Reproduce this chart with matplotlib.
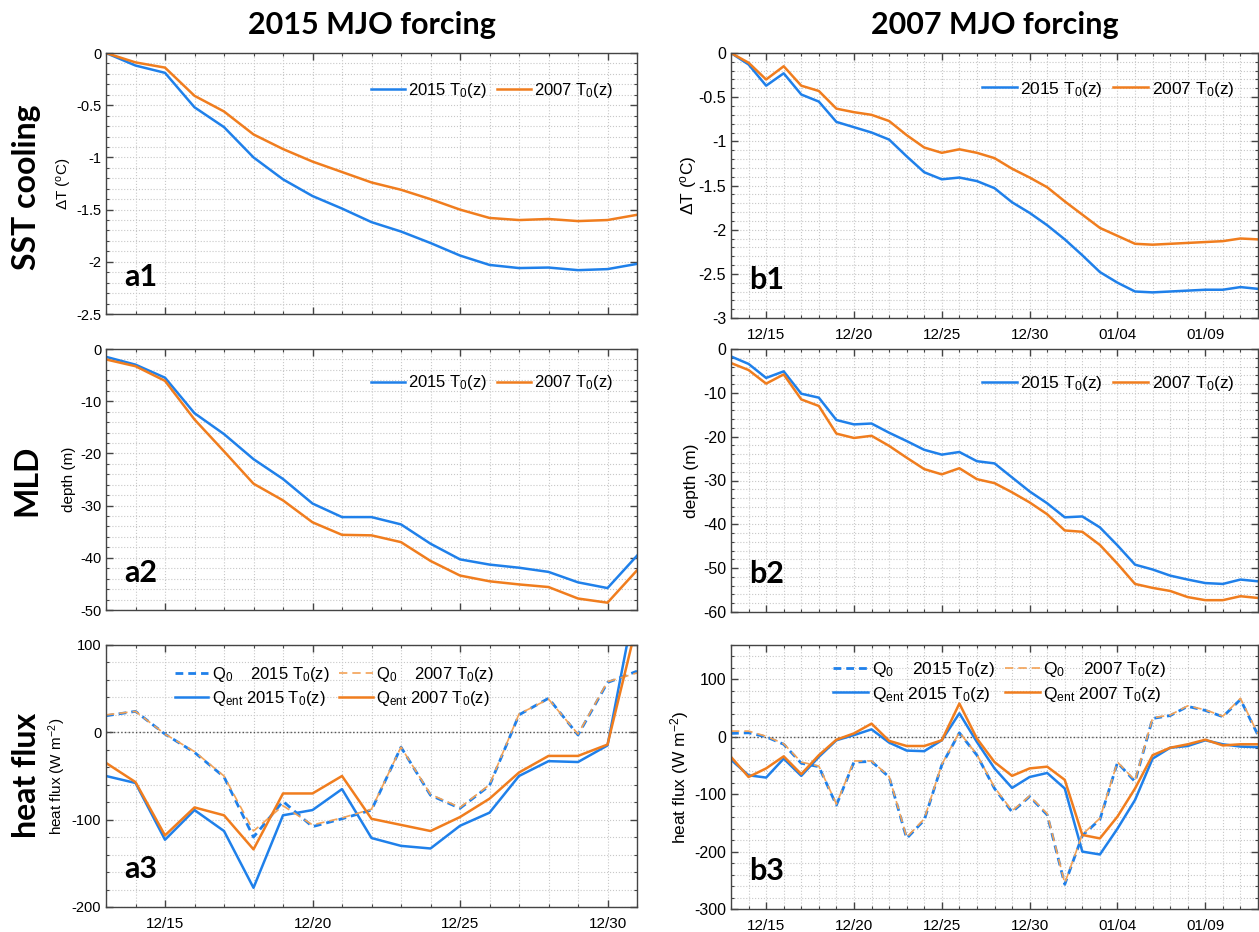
import numpy as np
import pandas as pd
import matplotlib
matplotlib.use("Agg")
import matplotlib.pyplot as plt
import matplotlib.dates as mdates
from matplotlib.ticker import MultipleLocator, FixedLocator, FormatStrFormatter

plt.rcParams['font.family'] = ['Liberation Sans', 'DejaVu Sans']
plt.rcParams['mathtext.default'] = 'regular'
plt.rcParams['axes.unicode_minus'] = False

# ==== data (daily values) ====
dates_a = pd.date_range('2015-12-13', '2015-12-31')
dates_b = pd.date_range('2007-12-13', '2008-01-12')
ticks_a = pd.date_range('2015-12-15', periods=4, freq='5D')
ticks_b = pd.date_range('2007-12-15', periods=6, freq='5D')

# 2015 MJO forcing
a1_2015 = [0, -0.12, -0.19, -0.52, -0.71, -1.00, -1.21, -1.37, -1.49, -1.62, -1.71,
           -1.82, -1.94, -2.03, -2.06, -2.055, -2.08, -2.07, -2.02]
a1_2007 = [0, -0.09, -0.14, -0.41, -0.56, -0.78, -0.92, -1.04, -1.14, -1.24, -1.31,
           -1.40, -1.50, -1.58, -1.60, -1.59, -1.61, -1.60, -1.55]
a2_2015 = [-1.5, -3.0, -5.5, -12.3, -16.3, -21.1, -24.9, -29.6, -32.2, -32.2, -33.6,
           -37.3, -40.3, -41.3, -41.9, -42.7, -44.7, -45.8, -39.6]
a2_2007 = [-2.0, -3.3, -6.1, -13.5, -19.6, -25.8, -29.0, -33.2, -35.6, -35.7, -37.0,
           -40.6, -43.4, -44.5, -45.1, -45.6, -47.8, -48.6, -42.4]
a3_q0_2015 = [19, 24, -2, -23, -51, -120, -79, -108, -99, -89, -17, -72, -87, -61,
              20, 39, -3, 57, 70]
a3_q0_2007 = [20, 24, -2, -22, -50, -113, -84, -106, -98, -88, -17, -71, -86, -60,
              21, 38, -2, 58, 68]
a3_qe_2015 = [-50, -58, -123, -89, -113, -178, -95, -89, -65, -121, -130, -133, -107,
              -92, -50, -33, -34, -15, 160]
a3_qe_2007 = [-35, -57, -118, -86, -95, -134, -70, -70, -50, -99, -106, -113, -97,
              -76, -46, -27, -27, -14, 125]

# 2007 MJO forcing
b1_2015 = [0, -0.13, -0.37, -0.23, -0.47, -0.55, -0.78, -0.84, -0.90, -0.98, -1.17,
           -1.35, -1.43, -1.41, -1.45, -1.53, -1.69, -1.81, -1.95, -2.11, -2.29, -2.48,
           -2.60, -2.70, -2.71, -2.70, -2.69, -2.68, -2.68, -2.65, -2.67]
b1_2007 = [0, -0.11, -0.30, -0.15, -0.37, -0.43, -0.63, -0.67, -0.70, -0.77, -0.93,
           -1.07, -1.13, -1.09, -1.13, -1.19, -1.31, -1.41, -1.52, -1.68, -1.83, -1.98,
           -2.07, -2.16, -2.17, -2.16, -2.15, -2.14, -2.13, -2.10, -2.11]
b2_2015 = [-1.7, -3.4, -6.6, -5.1, -10.2, -11.1, -16.2, -17.2, -17.0, -19.1, -21.0,
           -23.0, -24.1, -23.5, -25.6, -26.1, -29.3, -32.5, -35.2, -38.4, -38.2, -40.7,
           -44.8, -49.2, -50.3, -51.7, -52.6, -53.4, -53.6, -52.6, -53.0]
b2_2007 = [-3.2, -4.8, -7.9, -5.8, -11.5, -13.0, -19.3, -20.3, -19.8, -22.1, -24.8,
           -27.4, -28.6, -27.2, -29.7, -30.6, -32.7, -35.0, -37.7, -41.4, -41.7, -44.7,
           -49.0, -53.6, -54.5, -55.2, -56.6, -57.3, -57.3, -56.4, -56.8]
b3_q0_2015 = [6, 7, 0, -13, -46, -52, -119, -44, -43, -70, -177, -145, -49, 7, -32,
              -90, -131, -104, -136, -257, -172, -144, -45, -78, 32, 37, 53, 46, 35, 65, 3]
b3_q0_2007 = [10, 10, 1, -12, -44, -51, -117, -42, -42, -69, -175, -143, -48, 8, -31,
              -88, -129, -103, -134, -255, -170, -142, -44, -76, 33, 38, 54, 47, 36, 67, 5]
b3_qe_2015 = [-40, -67, -71, -38, -68, -35, -6, 3, 13, -10, -24, -25, -6, 41, -9,
              -55, -89, -70, -63, -90, -200, -205, -160, -110, -38, -19, -16, -6, -13, -17, -18]
b3_qe_2007 = [-35, -70, -55, -34, -65, -32, -5, 6, 23, -7, -16, -16, -6, 58, -3,
              -44, -68, -55, -52, -75, -171, -177, -139, -90, -32, -19, -13, -5, -15, -13, -13]

blue = '#1f80ea'
orange = '#f07d1e'
orange_light = '#f3a256'
W, H = 1259, 932


def rect(left, right, top, bottom):
    return [left / W, 1 - bottom / H, (right - left) / W, (bottom - top) / H]


def style(ax, dates, ticks, ylim, ymaj, ymin, fs, show_x):
    ax.set_xlim(dates[0], dates[-1])
    ax.set_ylim(*ylim)
    ax.xaxis.set_major_locator(FixedLocator(mdates.date2num(ticks)))
    ax.xaxis.set_minor_locator(mdates.DayLocator())
    ax.xaxis.set_major_formatter(mdates.DateFormatter('%m/%d'))
    ax.yaxis.set_major_locator(MultipleLocator(ymaj))
    ax.yaxis.set_minor_locator(MultipleLocator(ymin))
    ax.yaxis.set_major_formatter(FormatStrFormatter('%g'))
    ax.grid(True, which='both', ls=':', color='#c8c8c8', lw=0.8)
    ax.tick_params(which='both', direction='in', top=True, right=True, color='#444444')
    ax.tick_params(which='major', length=5, width=1)
    ax.tick_params(which='minor', length=2.5, width=0.8)
    ax.tick_params(axis='y', labelsize=fs)
    ax.tick_params(axis='x', labelsize=11, pad=7)
    if not show_x:
        ax.tick_params(axis='x', labelbottom=False)
    for s in ax.spines.values():
        s.set_color('#444444')
        s.set_linewidth(1)
    ax.set_axisbelow(True)


def two_lines(ax, dates, v15, v07, fs, anchor):
    ax.plot(dates, v15, color=blue, lw=1.8, label='2015 T$_0$(z)')
    ax.plot(dates, v07, color=orange, lw=1.8, label='2007 T$_0$(z)')
    ax.legend(loc='center right', bbox_to_anchor=anchor, ncol=2, frameon=False,
              fontsize=fs, handlelength=2.0, handletextpad=0.2, columnspacing=0.6,
              borderpad=0, borderaxespad=0)


def flux_lines(ax, dates, q15, q07, e15, e07, fs, anchor):
    ax.axhline(0, color='#555555', ls=':', lw=1)
    ax.plot(dates, q15, color=blue, lw=2.0, dashes=(2.8, 1.8),
            label='Q$_0$    2015 T$_0$(z)')
    ax.plot(dates, e15, color=blue, lw=1.8, label='Q$_{ent}$ 2015 T$_0$(z)')
    ax.plot(dates, q07, color=orange_light, lw=1.2, dashes=(5, 3),
            label='Q$_0$    2007 T$_0$(z)')
    ax.plot(dates, e07, color=orange, lw=1.8, label='Q$_{ent}$ 2007 T$_0$(z)')
    ax.legend(loc='center', bbox_to_anchor=anchor, ncol=2, frameon=False,
              fontsize=fs, handlelength=2.0, handletextpad=0.2, columnspacing=0.6,
              labelspacing=0.3, borderpad=0, borderaxespad=0)


def panel_label(ax, txt):
    ax.text(0.035, 0.09, txt, transform=ax.transAxes, fontsize=22,
            fontweight='bold', family='Lato', va='bottom', ha='left')


fig = plt.figure(figsize=(12.59, 9.32), dpi=100)

a1 = fig.add_axes(rect(106, 637, 53, 314))
a2 = fig.add_axes(rect(106, 637, 349, 610))
a3 = fig.add_axes(rect(106, 637, 645, 907))
b1 = fig.add_axes(rect(731, 1258, 53, 318))
b2 = fig.add_axes(rect(731, 1258, 349, 612))
b3 = fig.add_axes(rect(731, 1258, 645, 909))

two_lines(a1, dates_a, a1_2015, a1_2007, 12, (0.955, 0.858))
style(a1, dates_a, ticks_a, (-2.5, 0), 0.5, 0.1, 10.5, False)
a1.set_ylabel('ΔT ($^o$C)', fontsize=11)
a1.yaxis.set_label_coords(-0.060, 0.5)
panel_label(a1, 'a1')

two_lines(a2, dates_a, a2_2015, a2_2007, 12, (0.955, 0.87))
style(a2, dates_a, ticks_a, (-50, 0), 10, 2, 10.5, False)
a2.set_ylabel('depth (m)', fontsize=11)
a2.yaxis.set_label_coords(-0.056, 0.5)
panel_label(a2, 'a2')

flux_lines(a3, dates_a, a3_q0_2015, a3_q0_2007, a3_qe_2015, a3_qe_2007, 12, (0.43, 0.843))
style(a3, dates_a, ticks_a, (-200, 100), 100, 20, 10.5, True)
a3.set_ylabel('heat flux (W m$^{-2}$)', fontsize=11)
a3.yaxis.set_label_coords(-0.072, 0.5)
panel_label(a3, 'a3')

two_lines(b1, dates_b, b1_2015, b1_2007, 12.5, (0.955, 0.864))
style(b1, dates_b, ticks_b, (-3, 0), 0.5, 0.1, 11.5, True)
b1.set_ylabel('ΔT ($^o$C)', fontsize=12.5)
b1.yaxis.set_label_coords(-0.061, 0.5)
panel_label(b1, 'b1')

two_lines(b2, dates_b, b2_2015, b2_2007, 12.5, (0.955, 0.87))
style(b2, dates_b, ticks_b, (-60, 0), 10, 2, 11.5, False)
b2.set_ylabel('depth (m)', fontsize=12.5)
b2.yaxis.set_label_coords(-0.061, 0.5)
panel_label(b2, 'b2')

flux_lines(b3, dates_b, b3_q0_2015, b3_q0_2007, b3_qe_2015, b3_qe_2007, 12.5, (0.51, 0.86))
style(b3, dates_b, ticks_b, (-300, 160), 100, 20, 11.5, True)
b3.set_ylabel('heat flux (W m$^{-2}$)', fontsize=12.5)
b3.yaxis.set_label_coords(-0.076, 0.5)
panel_label(b3, 'b3')

# column / row titles
fig.text(372 / W, 1 - 25 / H, '2015 MJO forcing', fontsize=22, fontweight='bold',
         family='Lato', ha='center', va='center')
fig.text(995 / W, 1 - 25 / H, '2007 MJO forcing', fontsize=22, fontweight='bold',
         family='Lato', ha='center', va='center')
for txt, yc in [('SST cooling', 187), ('MLD', 480), ('heat flux', 775)]:
    fig.text(27 / W, 1 - yc / H, txt, fontsize=23, fontweight='bold', family='Lato',
             rotation=90, ha='center', va='center')

fig.savefig('out.png', dpi=100)
